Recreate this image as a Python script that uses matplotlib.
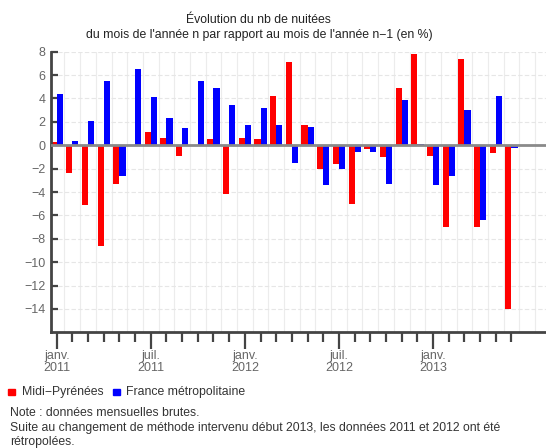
import matplotlib
matplotlib.use("Agg")
import matplotlib.pyplot as plt
import numpy as np

plt.rcParams['font.family'] = ['Liberation Sans', 'DejaVu Sans']

months = ["janv. 2011", "févr. 2011", "mars 2011", "avr. 2011", "mai 2011", "juin 2011",
          "juil. 2011", "août 2011", "sept. 2011", "oct. 2011", "nov. 2011", "déc. 2011",
          "janv. 2012", "févr. 2012", "mars 2012", "avr. 2012", "mai 2012", "juin 2012",
          "juil. 2012", "août 2012", "sept. 2012", "oct. 2012", "nov. 2012", "déc. 2012",
          "janv. 2013", "févr. 2013", "mars 2013", "avr. 2013", "mai 2013", "juin 2013"]

midi_pyrenees = [0.3, -2.4, -5.1, -8.6, -3.3, -0.1, 1.1, 0.6, -0.9, -0.1, 0.5, -4.2,
                 0.6, 0.5, 4.2, 7.1, 1.7, -2.0, -1.6, -5.0, -0.3, -1.0, 4.9, 7.8,
                 -0.9, -7.0, 7.4, -7.0, -0.7, -14.0]
france_metro = [4.4, 0.4, 2.1, 5.5, -2.6, 6.5, 4.1, 2.3, 1.5, 5.5, 4.9, 3.4,
                1.7, 3.2, 1.7, -1.5, 1.6, -3.4, -2.0, -0.6, -0.6, -3.3, 3.9, 0.1,
                -3.4, -2.6, 3.0, -6.4, 4.2, -0.2]

major_tick_labels = ["janv.\n2011", "juil.\n2011", "janv.\n2012", "juil.\n2012", "janv.\n2013"]
major_tick_idx = [0, 6, 12, 18, 24]
yticks = [8, 6, 4, 2, 0, -2, -4, -6, -8, -10, -12, -14]

fig = plt.figure(figsize=(5.46, 4.48), dpi=100)
ax = fig.add_axes([51/546, (448-332.3)/448, 495/546, (332.3-51.7)/448])

x = np.arange(len(months))
w = 0.39
# grid
for m in range(len(months) + 2):
    ax.axvline(m - 0.5, color='#ececec', lw=0.8, zorder=0)
ax.set_yticks(yticks)
ax.yaxis.grid(True, color='#e6e6e6', lw=0.8, linestyle=(0, (4, 2)), zorder=0)

ax.bar(x - w/2, midi_pyrenees, width=w, color='#ff0000', zorder=2, linewidth=0)
ax.bar(x + w/2, france_metro, width=w, color='#0000ff', zorder=2, linewidth=0)
ax.axhline(0, color='#8a8a8a', lw=2, zorder=3)

ax.set_xlim(-0.36, 31.2)
ax.set_ylim(-16, 8)

tick_col = '#444444'
lab_col = '#666666'
ax.set_xticks(major_tick_idx)
ax.set_xticklabels(major_tick_labels, fontsize=9, color=lab_col, linespacing=0.95)
ax.set_xticks(x, minor=True)
ax.tick_params(axis='x', which='major', direction='out', length=12, width=1.6, color=tick_col, pad=1)
ax.tick_params(axis='x', which='minor', direction='out', length=7, width=1.6, color=tick_col)
ax.tick_params(axis='y', which='major', direction='in', length=5, width=1.6, color=tick_col,
               labelsize=9, labelcolor=lab_col, pad=4)

for s in ['top', 'right']:
    ax.spines[s].set_visible(False)
for s in ['left', 'bottom']:
    ax.spines[s].set_color(tick_col)
    ax.spines[s].set_linewidth(2)

txt_col = '#333333'
fig.text(258/546, 1 - 20/448, "Évolution du nb de nuitées", ha='center', va='center', fontsize=8.8, color='#222222')
fig.text(259/546, 1 - 35/448, "du mois de l'année n par rapport au mois de l'année n−1 (en %)",
         ha='center', va='center', fontsize=8.8, color='#222222')

# legend
fig.patches.append(plt.Rectangle((8/546, 1 - 395/448), 7/546, 6/448, transform=fig.transFigure,
                                 color='#ff0000', figure=fig))
fig.text(22/546, 1 - 392/448, "Midi−Pyrénées", ha='left', va='center', fontsize=8.8, color=txt_col)
fig.patches.append(plt.Rectangle((113/546, 1 - 395/448), 7/546, 6/448, transform=fig.transFigure,
                                 color='#0000ff', figure=fig))
fig.text(126/546, 1 - 392/448, "France métropolitaine", ha='left', va='center', fontsize=8.8, color=txt_col)

fig.text(10/546, 1 - 413/448, "Note : données mensuelles brutes.", ha='left', va='center', fontsize=8.8, color=txt_col)
fig.text(10/546, 1 - 428/448, "Suite au changement de méthode intervenu début 2013, les données 2011 et 2012 ont été",
         ha='left', va='center', fontsize=8.8, color=txt_col)
fig.text(10/546, 1 - 442/448, "rétropolées.", ha='left', va='center', fontsize=8.8, color=txt_col)

fig.savefig("out.png", dpi=100)
